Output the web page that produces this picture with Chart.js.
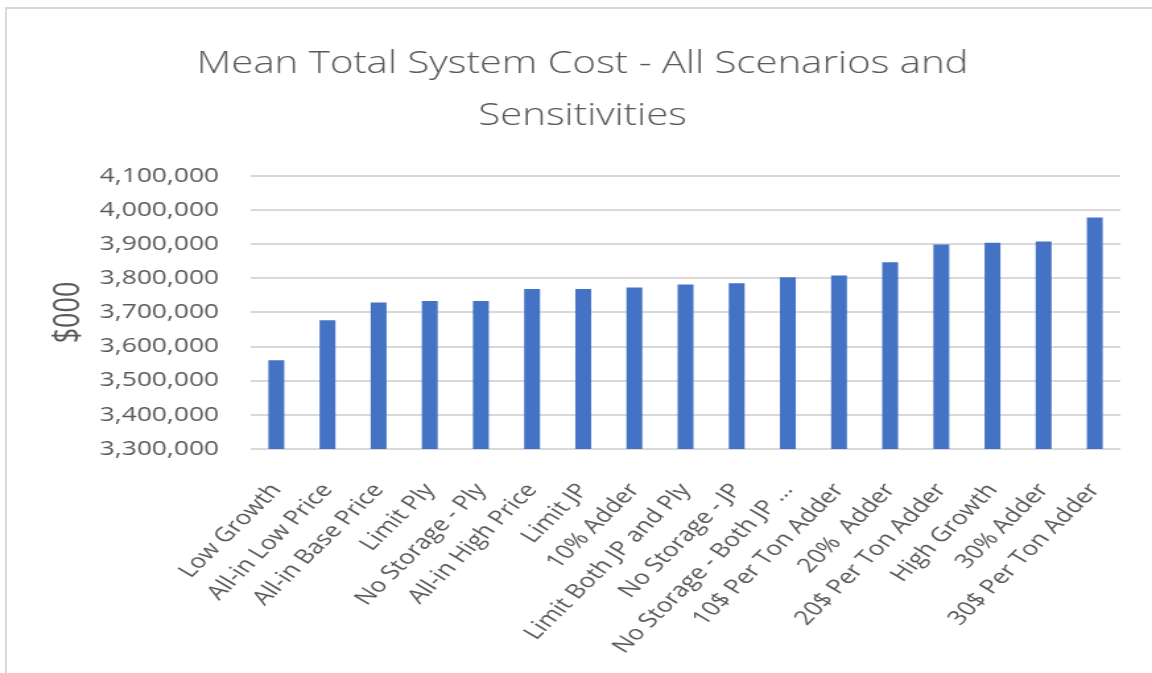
<!DOCTYPE html>
<html>
<head>
<meta charset="utf-8">
<script src="https://cdn.jsdelivr.net/npm/chart.js@4/dist/chart.umd.min.js"></script>
<style>
  html, body { margin: 0; padding: 0; background: #fff; overflow: hidden; }
  #frame { position: absolute; left: 5px; top: 7px; width: 1200px; height: 700px;
           border-top: 2px solid #d9d9d9; border-left: 2px solid #d9d9d9; }
  /* the source picture is stretched sideways, so the chart is drawn narrower and scaled */
  #wrap { position: absolute; left: 0; top: 0; width: 873px; height: 673px;
          transform: scaleX(1.3196); transform-origin: 0 0; }
</style>
</head>
<body>
<div id="frame"></div>
<div id="wrap"><canvas id="costChart" width="873" height="673"></canvas></div>
<script>
// Mean total system cost per scenario, $000
const scenarios = [
    'Low Growth', 'All-in Low Price', 'All-in Base Price', 'Limit Ply',
    'No Storage - Ply', 'All-in High Price', 'Limit JP', '10% Adder',
    'Limit Both JP and Ply', 'No Storage - JP', 'No Storage - Both JP ...',
    '10$ Per Ton Adder', '20%  Adder', '20$ Per Ton Adder', 'High Growth',
    '30% Adder', '30$ Per Ton Adder'
];
const meanCost = [
    3560000, 3677000, 3729000, 3734000, 3734000, 3769000, 3769000, 3773000,
    3782000, 3786000, 3803000, 3808000, 3847000, 3899000, 3904000, 3908000,
    3978000
];
const yMin = 3300000;
const yMax = 4100000;
const yStep = 100000;

const textColor = '#595959';
const gridColor = '#d9d9d9';

const ctx = document.getElementById('costChart').getContext('2d');
new Chart(ctx, {
    type: 'bar',
    data: {
        labels: scenarios,
        datasets: [{
            label: 'Mean Total System Cost',
            data: meanCost,
            backgroundColor: '#4472C4',
            barPercentage: 0.31,
            categoryPercentage: 1.0
        }]
    },
    options: {
        responsive: false,
        animation: false,
        layout: { padding: { top: 38, right: 24, left: 34, bottom: 0 } },
        plugins: {
            legend: { display: false },
            tooltip: { enabled: false },
            title: {
                display: true,
                text: ['Mean Total System Cost - All Scenarios and', 'Sensitivities'],
                color: textColor,
                font: { family: 'Open Sans', size: 30.4, weight: '300', lineHeight: 1.71 },
                padding: { top: 0, bottom: 34 }
            }
        },
        scales: {
            x: {
                grid: { display: false },
                border: { display: false },
                ticks: {
                    color: textColor,
                    font: { family: 'Open Sans', size: 20 },
                    minRotation: 52,
                    maxRotation: 52,
                    autoSkip: false,
                    padding: 22
                },
                afterFit: function (scale) { scale.height = 224; }
            },
            y: {
                min: yMin,
                max: yMax,
                grid: { color: gridColor, lineWidth: 2, drawTicks: false },
                border: { display: false },
                ticks: {
                    stepSize: yStep,
                    color: textColor,
                    padding: 24,
                    font: { family: 'Open Sans', size: 20 },
                    callback: function (v) { return v.toLocaleString('en-US'); }
                },
                title: {
                    display: true,
                    text: '$000',
                    color: textColor,
                    font: { family: 'Open Sans', size: 27 },
                    padding: { top: 2, bottom: 0 }
                },
                afterFit: function (scale) { scale.width = 156; }
            }
        }
    }
});
</script>
</body>
</html>
